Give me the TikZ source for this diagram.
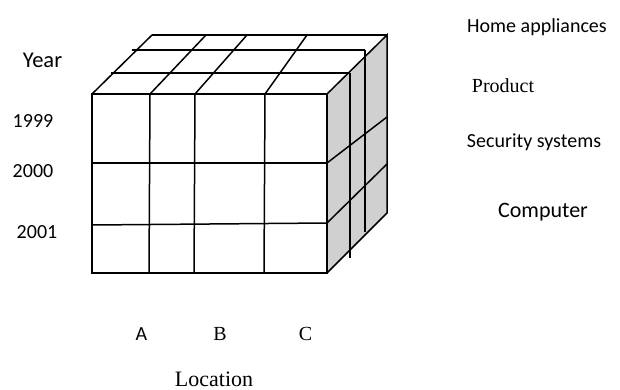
\documentclass[tikz,border=0pt]{standalone}
\usepackage{fontspec}
\newfontfamily\calib{Carlito}
\newfontfamily\tnr{Liberation Serif}
\definecolor{sidegray}{RGB}{208,208,208}
\begin{document}
\begin{tikzpicture}[x=1pt,y=-1pt,
  edge/.style={line width=1.5pt, line join=miter},
  sanslbl/.style={font=\calib\fontsize{20}{24}\selectfont, anchor=base, inner sep=0pt},
  seriflbl/.style={font=\tnr\fontsize{20}{24}\selectfont, anchor=base, inner sep=0pt}]
\useasboundingbox (0,0) rectangle (620,390);
% corner coordinates
\coordinate (ftl) at (92,94);
\coordinate (ftr) at (327,94);
\coordinate (fbl) at (92,273);
\coordinate (fbr) at (327,273);
\coordinate (btl) at (152,35);
\coordinate (btr) at (387,35);
\coordinate (bbr) at (387,213);
% right face
\fill[sidegray] (ftr) -- (btr) -- (bbr) -- (fbr) -- cycle;
% front face
\draw[edge] (ftl) rectangle (fbr);
\draw[edge] (92,163) -- (327,163);
\draw[edge] (92,225) -- (327,223);
\draw[edge] (150,94) -- (149,273);
\draw[edge] (195,94) -- (194,273);
\draw[edge] (265,94) -- (264,273);
% top face
\draw[edge] (btl) -- (btr);
\draw[edge] (132,50) -- (365,50);
\draw[edge] (111,73) -- (350,73);
\draw[edge] (ftl) -- (btl);
\draw[edge] (150,94) -- (206,35);
\draw[edge] (195,94) -- (247,35);
\draw[edge] (265,94) -- (307,35);
% right face lines
\draw[edge] (ftr) -- (btr) -- (bbr) -- (fbr);
\draw[edge] (327,163) -- (387,117);
\draw[edge] (327,223) -- (387,164);
\draw[edge] (350,73) -- (350,258);
\draw[edge] (365,50) -- (365,232);
% labels
\node[sanslbl, font=\calib\fontsize{22.5}{26}\selectfont] (year) at (42.5,68) {Year};
\node[sanslbl] (y1999) at (33,128) {1999};
\node[sanslbl] (y2000) at (33,177) {2000};
\node[sanslbl] (y2001) at (37,238) {2001};
\node[sanslbl] (home) at (537,33) {Home appliances};
\node[seriflbl] (product) at (503,93) {Product};
\node[sanslbl] (security) at (534,147) {Security systems};
\node[sanslbl, font=\calib\fontsize{22}{26}\selectfont] (computer) at (543,217) {Computer};
\node[sanslbl] (la) at (141.5,340) {A};
\node[seriflbl] (lb) at (220,340) {B};
\node[seriflbl] (lc) at (305.5,340) {C};
\node[seriflbl, font=\tnr\fontsize{22}{26}\selectfont] (loc) at (214,386) {Location};
\end{tikzpicture}
\end{document}
